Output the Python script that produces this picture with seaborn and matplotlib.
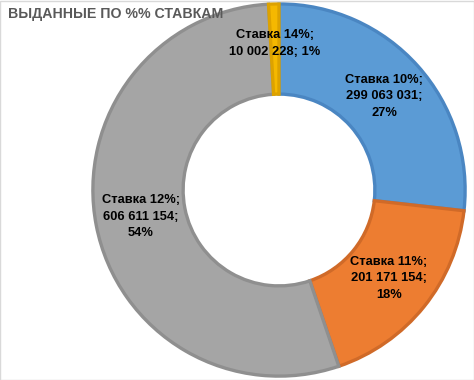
import numpy as np
import matplotlib
matplotlib.use("Agg")
import matplotlib.pyplot as plt
import seaborn as sns

# data
rates = ["Ставка 10%", "Ставка 11%", "Ставка 12%", "Ставка 14%"]
amounts = [299063031, 201171154, 606611154, 10002228]
shares = ["27%", "18%", "54%", "1%"]

face_colors = ["#5B9BD5", "#ED7D31", "#A5A5A5", "#F5B800"]
edge_colors = ["#4A86C2", "#D06A28", "#8F8F8F", "#DDA200"]

sns.set_theme(style="white")
plt.rcParams["font.family"] = ["Liberation Sans", "DejaVu Sans"]

fig = plt.figure(figsize=(4.74, 3.8), dpi=100)
fig.patch.set_facecolor("white")

# axes placed so the ring sits where it does in the original
W, H = 474, 380
cx, cy, R = 279, 190, 188
ax = fig.add_axes([(cx - R) / W, (H - cy - R) / H, 2 * R / W, 2 * R / H])

palette = sns.color_palette(face_colors)
wedges, _ = ax.pie(amounts, colors=palette, startangle=90, counterclock=False,
                   radius=0.99, wedgeprops=dict(width=0.48, linewidth=2.4))
for w, ec in zip(wedges, edge_colors):
    w.set_edgecolor(ec)
    w.set_clip_on(False)

def fmt_amount(v):
    return f"{v:,}".replace(",", " ")

for w, rate, amt, sh in zip(wedges, rates, amounts, shares):
    ang = np.deg2rad((w.theta1 + w.theta2) / 2)
    r = 0.75
    x, y = r * np.cos(ang), r * np.sin(ang)
    if sh == "1%":
        txt = f"{rate};\n{fmt_amount(amt)}; {sh}"
        y += 0.03
    else:
        txt = f"{rate};\n{fmt_amount(amt)};\n{sh}"
    ax.text(x, y, txt, ha="center", va="center", fontsize=9.3,
            fontweight="bold", color="black", linespacing=1.5)

ax.set_xlim(-1, 1)
ax.set_ylim(-1, 1)
ax.set_aspect("equal")
ax.axis("off")

fig.text(8 / W, 1 - 18 / H, "ВЫДАННЫЕ ПО %% СТАВКАМ", ha="left", va="baseline",
         fontsize=10.2, fontweight="bold", color="#595959")

# light chart border
fig.patches.append(plt.Rectangle((0.001, 0.001), 0.998, 0.997, transform=fig.transFigure,
                                 fill=False, edgecolor="#D9D9D9", linewidth=1))

fig.savefig("out.png", dpi=100)
